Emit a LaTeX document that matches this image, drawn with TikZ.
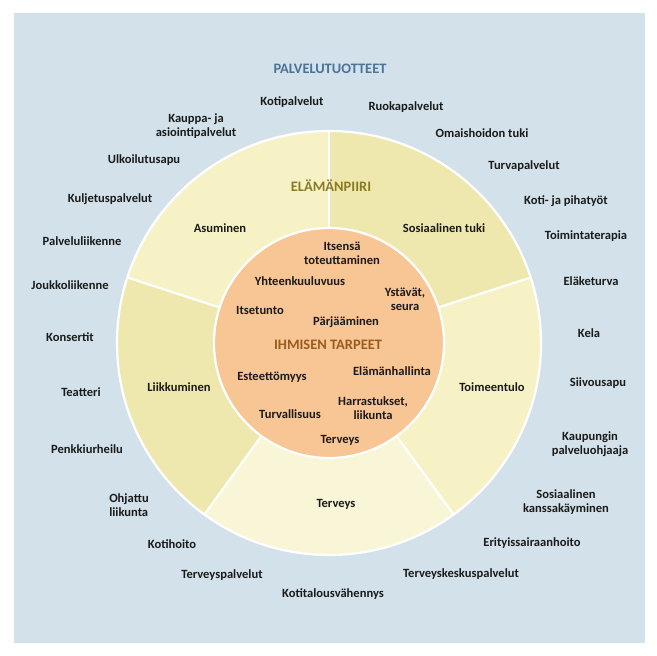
\documentclass[tikz,border=0pt]{standalone}
\usepackage{fontspec}
\setmainfont{Carlito}
\usepackage{tikz}
\usetikzlibrary{shapes,calc}
\definecolor{bgblue}{HTML}{D3E2EA}
\definecolor{secA}{HTML}{F6F2C6}
\definecolor{secB}{HTML}{EFE8AE}
\definecolor{secC}{HTML}{F8F6D6}
\definecolor{needfill}{HTML}{F8C595}
\definecolor{titleblue}{HTML}{4B7298}
\definecolor{titleolive}{HTML}{8A7A22}
\definecolor{titlebrown}{HTML}{9A5B1E}
\definecolor{txt}{HTML}{1A1A1A}
\tikzstyle{service} = [text=txt, font=\bfseries\fontsize{12.6}{14}\selectfont, align=center, inner sep=0pt]
\tikzstyle{heading} = [font=\bfseries\fontsize{14.5}{16}\selectfont, inner sep=0pt]
\tikzstyle{divider} = [draw=white, line width=2.2bp]

\begin{document}
\begin{tikzpicture}[x=1bp, y=-1bp]
        \useasboundingbox (0,0) rectangle (657,656);
        \fill[bgblue] (14,13) rectangle (645,643);
        \coordinate (ctr) at (329,343);
        % ring of five sectors
        \foreach \a/\col in {90/secA, 162/secB, 234/secC, 306/secA, 18/secB}
            \fill[\col] (ctr) -- ++(-\a:212) arc[start angle=-\a, delta angle=-72, radius=212] -- cycle;
        \foreach \a in {90, 162, 234, 306, 18}
            \path[divider] (ctr) -- ++(-\a:212);
        \path[divider] (ctr) circle[radius=212];
        \path[divider, fill=needfill] (ctr) circle[radius=115];
        % headings
        \node[heading, text=titleblue] (palv) at (330,69) {PALVELUTUOTTEET};
        \node[heading, text=titleolive] (piiri) at (331,186) {ELÄMÄNPIIRI};
        \node[heading, text=titlebrown] (tarpeet) at (328,345) {IHMISEN TARPEET};
        % services round the ring
        \node[service] (kotipalv) at (292,102) {Kotipalvelut};
        \node[service] (ruoka) at (406,107) {Ruokapalvelut};
        \node[service] (kauppa) at (196,126) {Kauppa- ja\\asiointipalvelut};
        \node[service] (omais) at (482,133) {Omaishoidon tuki};
        \node[service] (ulkoilu) at (144,160) {Ulkoilutusapu};
        \node[service] (turva) at (524,166) {Turvapalvelut};
        \node[service] (kuljetus) at (110,199) {Kuljetuspalvelut};
        \node[service] (piha) at (566,201) {Koti- ja pihatyöt};
        \node[service] (palvliik) at (82,241) {Palveluliikenne};
        \node[service] (terapia) at (586,236) {Toimintaterapia};
        \node[service] (joukko) at (70,285) {Joukkoliikenne};
        \node[service] (elake) at (591,281) {Eläketurva};
        \node[service] (konsertit) at (70,337) {Konsertit};
        \node[service] (kela) at (589,333) {Kela};
        \node[service] (teatteri) at (81,392) {Teatteri};
        \node[service] (siivous) at (598,383) {Siivousapu};
        \node[service] (penkki) at (87,449) {Penkkiurheilu};
        \node[service] (ohjaaja) at (590,444) {Kaupungin\\palveluohjaaja};
        \node[service, align=left] (ohjattu) at (129,505) {Ohjattu\\liikunta};
        \node[service] (kanssa) at (566,502) {Sosiaalinen\\kanssakäyminen};
        \node[service] (kotihoito) at (172,544) {Kotihoito};
        \node[service] (erity) at (532,543) {Erityissairaanhoito};
        \node[service] (tpalv) at (222,575) {Terveyspalvelut};
        \node[service] (tkesk) at (461,574) {Terveyskeskuspalvelut};
        \node[service] (kotitalous) at (333,594) {Kotitalousvähennys};
        % sectors of the ring
        \node[service] (asuminen) at (220,228) {Asuminen};
        \node[service] (sostuki) at (444,228) {Sosiaalinen tuki};
        \node[service] (liikk) at (179,387) {Liikkuminen};
        \node[service] (toimeen) at (492,387) {Toimeentulo};
        \node[service] (terv1) at (336,504) {Terveys};
        % needs in the middle
        \node[service] (itsensa) at (342,253) {Itsensä\\toteuttaminen};
        \node[service] (yhteen) at (300,281) {Yhteenkuuluvuus};
        \node[service] (ystavat) at (405,299) {Ystävät,\\seura};
        \node[service] (itsetunto) at (260,310) {Itsetunto};
        \node[service] (parja) at (346,322) {Pärjääminen};
        \node[service] (esteet) at (272,377) {Esteettömyys};
        \node[service] (hallinta) at (392,371) {Elämänhallinta};
        \node[service] (harrast) at (373,408) {Harrastukset,\\liikunta};
        \node[service] (turvall) at (290,414) {Turvallisuus};
        \node[service] (terv0) at (340,440) {Terveys};
    \end{tikzpicture}
\end{document}
